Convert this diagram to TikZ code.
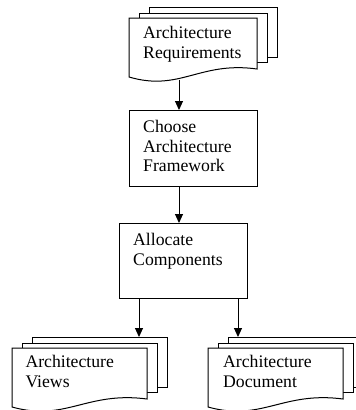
\documentclass[tikz,border=0pt]{standalone}
\usepackage{fontspec}
\setmainfont{Liberation Serif}
\usetikzlibrary{arrows.meta}
\newcommand\docstack[3]{%
  \begin{scope}[shift={(#1,#2)}]
    \path[sheet] (20,-11) rectangle (#3+20,39);
    \path[sheet] (10,-5) rectangle (#3+10,44);
    \path[sheet] (0,0) -- (#3,0) -- (#3,51)
      .. controls (0.55*#3,43) and (0.4*#3,74) .. (0,59) -- cycle;
  \end{scope}}
\begin{document}
\begin{tikzpicture}[x=1pt,y=-1pt,
  line width=1pt,
  sheet/.style={draw=black,fill=white},
  procbox/.style={draw=black,fill=white,rectangle,inner sep=0pt,anchor=north west},
  lbl/.style={anchor=base west,align=left,inner sep=0pt,
    font=\fontsize{17.7}{19.7}\selectfont},
  flow/.style={-{Triangle[length=9pt,width=8pt]}}
]
\useasboundingbox (0,0) rectangle (356,410);
\fill[white] (0,0) rectangle (356,410);

% documents
\docstack{129}{18}{128}
\docstack{12}{348}{135}
\docstack{208}{348}{135}

% process boxes
\node[procbox,minimum width=128pt,minimum height=76pt] (choose) at (129,110) {};
\node[procbox,minimum width=128pt,minimum height=75pt] (alloc) at (119,223) {};

% labels (anchored at the baseline of their last line)
\node[lbl] (reqtxt) at (142.7,58.5) {Architecture\\Requirements};
\node[lbl] (choosetxt) at (142.7,171.7) {Choose\\Architecture\\Framework};
\node[lbl] (alloctxt) at (132.7,265.3) {Allocate\\Components};
\node[lbl] (viewstxt) at (25,387.5) {Architecture\\Views};
\node[lbl] (doctxt) at (222.7,387.5) {Architecture\\Document};

% connector end points
\coordinate (reqb) at (179,79.5);
\coordinate (viewst) at (139,337);
\coordinate (doct) at (238,337);

% connectors
\draw[flow] (reqb) -- (reqb |- choose.north);
\draw[flow] (reqb |- choose.south) -- (reqb |- alloc.north);
\draw[flow] (viewst |- alloc.south) -- (viewst);
\draw[flow] (doct |- alloc.south) -- (doct);
\end{tikzpicture}
\end{document}
